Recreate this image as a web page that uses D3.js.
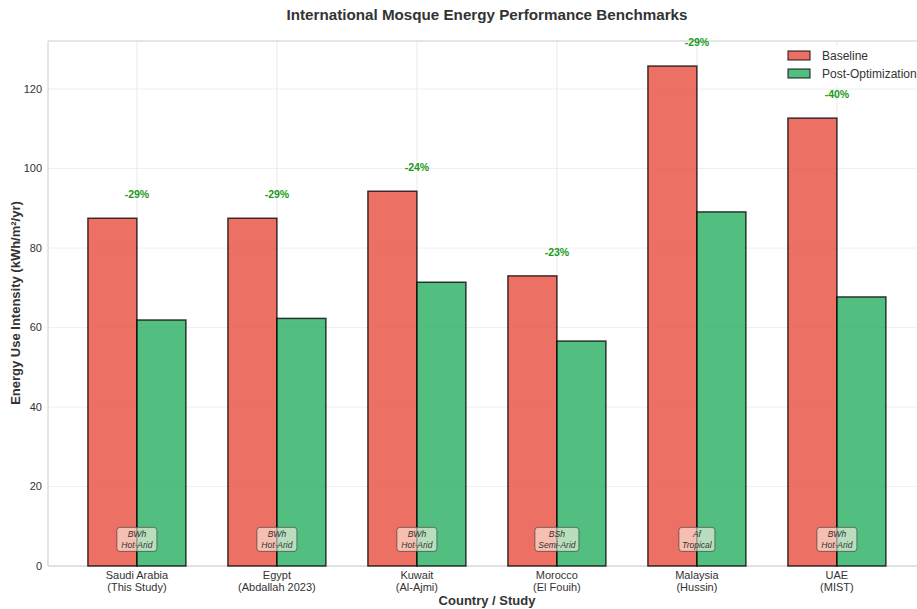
<!DOCTYPE html>
<html><head><meta charset="utf-8">
<script src="https://cdn.jsdelivr.net/npm/d3@7"></script>
<style>body{margin:0;background:#fff}svg{display:block;font-family:"Liberation Sans",Arial,sans-serif}</style>
</head><body><svg id="c" width="917" height="609"></svg>
<script>
const countries = ["Saudi Arabia","Egypt","Kuwait","Morocco","Malaysia","UAE"];
const studies = ["(This Study)","(Abdallah 2023)","(Al-Ajmi)","(El Fouih)","(Hussin)","(MIST)"];
const baseline = [87.5, 87.5, 94.3, 73.0, 125.8, 112.7];
const postOpt = [61.9, 62.3, 71.4, 56.6, 89.1, 67.7];
const reductions = ["-29%","-29%","-24%","-23%","-29%","-40%"];
const climateCodes = ["BWh","BWh","BWh","BSh","Af","BWh"];
const climateNames = ["Hot-Arid","Hot-Arid","Hot-Arid","Semi-Arid","Tropical","Hot-Arid"];
const yTicks = [0,20,40,60,80,100,120];

const svg = d3.select("#c");
const L=48, T=41, B=566, unit=140;
const x = d3.scaleLinear().domain([-0.635, 5.635]).range([L, L+unit*6.27]);
const y = d3.scaleLinear().domain([0, 132.1]).range([B, T]);
const W = 0.35;

// grid
const g = svg.append("g");
g.selectAll(".hg").data(yTicks).join("line").attr("x1",L).attr("x2",917).attr("y1",d=>y(d)).attr("y2",d=>y(d)).attr("stroke","#ebebeb").attr("stroke-width",0.8);
g.selectAll(".vg").data(countries).join("line").attr("x1",(d,i)=>x(i)).attr("x2",(d,i)=>x(i)).attr("y1",T).attr("y2",B).attr("stroke","#e6e6e6").attr("stroke-width",0.8);
// frame
svg.append("line").attr("x1",L).attr("x2",L).attr("y1",T).attr("y2",B).attr("stroke","#ccc").attr("stroke-width",1);
svg.append("line").attr("x1",L).attr("x2",917).attr("y1",B).attr("y2",B).attr("stroke","#ccc").attr("stroke-width",1);
svg.append("line").attr("x1",L).attr("x2",917).attr("y1",T).attr("y2",T).attr("stroke","#ccc").attr("stroke-width",1);

// bars
const cB="#e74c3c", cP="#27ae60";
svg.selectAll(".bb").data(baseline).join("rect")
  .attr("x",(d,i)=>x(i-W)).attr("width",x(W)-x(0)).attr("y",d=>y(d)).attr("height",d=>B-y(d))
  .attr("fill",cB).attr("fill-opacity",0.8).attr("stroke","#000").attr("stroke-opacity",0.75).attr("stroke-width",1.5);
svg.selectAll(".pb").data(postOpt).join("rect")
  .attr("x",(d,i)=>x(i)).attr("width",x(W)-x(0)).attr("y",d=>y(d)).attr("height",d=>B-y(d))
  .attr("fill",cP).attr("fill-opacity",0.8).attr("stroke","#000").attr("stroke-opacity",0.75).attr("stroke-width",1.5);

// reduction labels
svg.selectAll(".rl").data(reductions).join("text")
  .attr("x",(d,i)=>x(i)).attr("y",(d,i)=>y(baseline[i]+6)).attr("dy","0.35em")
  .attr("text-anchor","middle").attr("font-size",10.5).attr("font-weight","bold").attr("fill","#1a9a1a").text(d=>d);

// climate boxes
const cg = svg.selectAll(".cz").data(countries).join("g").attr("transform",(d,i)=>`translate(${x(i)},${y(6.7)})`);
cg.append("rect").attr("x",(d,i)=>i===4?-18:(i===3?-22:-20)).attr("y",-12).attr("width",(d,i)=>i===4?36:(i===3?44:40)).attr("height",24)
  .attr("rx",3).attr("fill","#fdf3e6").attr("fill-opacity",0.6).attr("stroke","#333").attr("stroke-opacity",0.6).attr("stroke-width",1);
cg.append("text").attr("text-anchor","middle").attr("y",-2).attr("font-size",8.5).attr("font-style","italic").attr("fill","#333").text((d,i)=>climateCodes[i]);
cg.append("text").attr("text-anchor","middle").attr("y",8.5).attr("font-size",8.5).attr("font-style","italic").attr("fill","#333").text((d,i)=>climateNames[i]);

// axes tick labels
svg.selectAll(".yt").data(yTicks).join("text").attr("x",L-6).attr("y",d=>y(d)).attr("dy","0.35em").attr("text-anchor","end").attr("font-size",11).attr("fill","#333").text(d=>d);
const xt = svg.selectAll(".xt").data(countries).join("text").attr("text-anchor","middle").attr("font-size",11).attr("fill","#333");
xt.append("tspan").attr("x",(d,i)=>x(i)).attr("y",579).text(d=>d);
xt.append("tspan").attr("x",(d,i)=>x(i)).attr("y",591).text((d,i)=>studies[i]);

// axis titles
svg.append("text").attr("x",487).attr("y",605).attr("text-anchor","middle").attr("font-size",13).attr("font-weight","bold").attr("fill","#333").text("Country / Study");
svg.append("text").attr("transform","translate(20,303) rotate(-90)").attr("text-anchor","middle").attr("font-size",13).attr("font-weight","bold").attr("fill","#333").text("Energy Use Intensity (kWh/m²/yr)");
svg.append("text").attr("x",487).attr("y",20).attr("text-anchor","middle").attr("font-size",15.2).attr("font-weight","bold").attr("fill","#333").text("International Mosque Energy Performance Benchmarks");

// legend
const lg = svg.append("g").attr("transform","translate(780,46)");
lg.append("rect").attr("x",0).attr("y",0).attr("width",140).attr("height",40).attr("fill","#fff").attr("fill-opacity",0.8);
const items=[["Baseline",cB],["Post-Optimization",cP]];
items.forEach((it,i)=>{
  lg.append("rect").attr("x",8).attr("y",5+i*18).attr("width",22).attr("height",9).attr("fill",it[1]).attr("fill-opacity",0.8).attr("stroke","#000").attr("stroke-opacity",0.75).attr("stroke-width",1.2);
  lg.append("text").attr("x",42).attr("y",10+i*18).attr("dy","0.35em").attr("font-size",12).attr("fill","#333").text(it[0]);
});
</script></body></html>
